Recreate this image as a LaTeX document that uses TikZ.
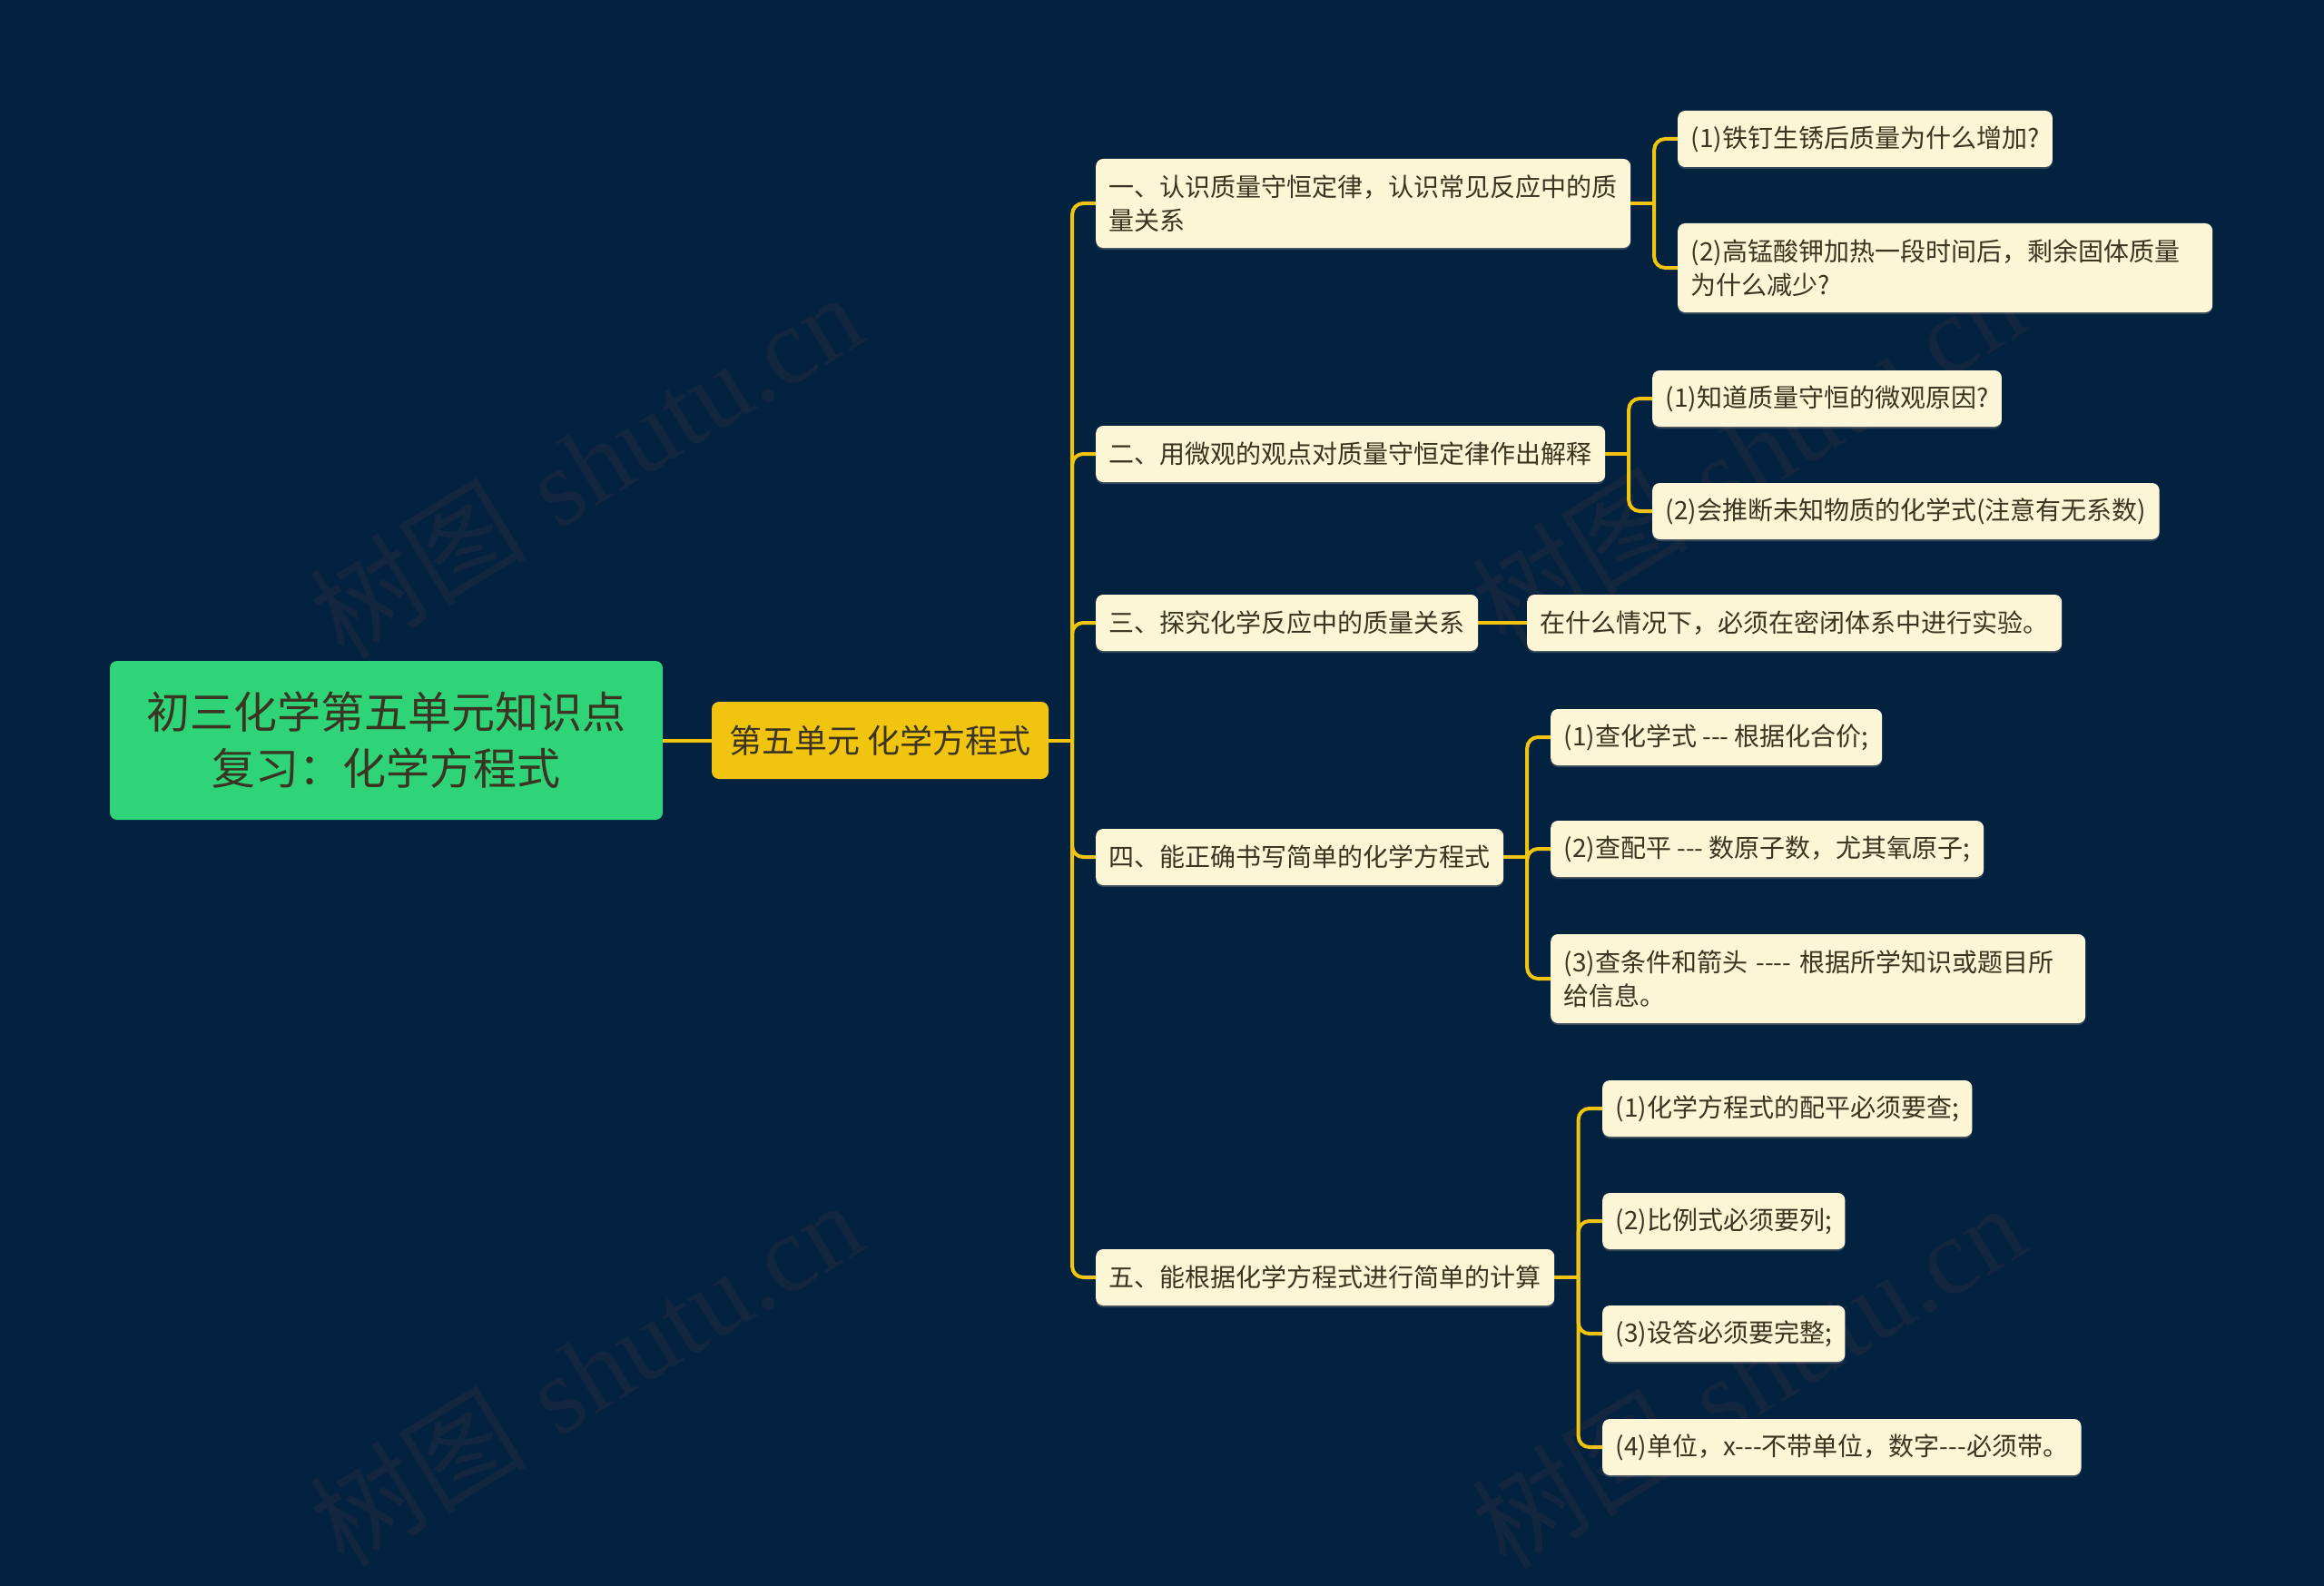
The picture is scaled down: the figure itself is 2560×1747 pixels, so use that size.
\documentclass[tikz,border=0pt]{standalone}
\usepackage{fontspec}
\newfontfamily\cjk{Noto Sans CJK SC}
\newfontfamily\wmfont{Liberation Serif}
\usetikzlibrary{calc}
\usetikzlibrary{shadows}

\definecolor{fondo}{HTML}{03223F}
\definecolor{verde}{HTML}{2FD479}
\definecolor{amarillo}{HTML}{F1C40F}
\definecolor{crema}{HTML}{FDF6D6}
\definecolor{tinta}{HTML}{3A3420}
\definecolor{marca}{HTML}{12263F}

\begin{document}
\begin{tikzpicture}[
        x=1pt, y=-1pt, % un punto = un pixel de la imagen
        font=\cjk, % Fuente para todas las etiquetas
        root/.style={fill=verde, text=tinta, rounded corners=8pt, align=center,
        minimum width=609pt, minimum height=175pt, font=\cjk\fontsize{48}{62}\selectfont}, % Tema principal
        unit/.style={fill=amarillo, text=tinta, rounded corners=8pt,
        minimum width=371pt, minimum height=85pt, font=\cjk\fontsize{36}{44}\selectfont}, % Unidad
        item/.style={fill=crema, text=tinta, rounded corners=8pt, anchor=west, align=left,
        inner xsep=14.5pt, minimum height=62pt, font=\cjk\fontsize{28}{37}\selectfont,
        drop shadow={shadow xshift=0pt, shadow yshift=-2pt, opacity=0.4}}, % Cajas de texto
        wide/.style={text width=560pt, minimum height=98pt}, % Cajas de dos lineas
        link/.style={draw=amarillo, line width=4pt}, % Conectores
        watermark/.style={text=marca, rotate=31.5, font=\fontsize{120}{120}\selectfont} % Marca de agua
    ]
        % --- Fondo y marco ---
        \fill[fondo] (0,0) rectangle (2560,1747);
        \useasboundingbox (0,0) rectangle (2560,1747);

        % --- Marcas de agua ---
        \foreach \mx/\my in {645/512, 1925/500, 645/1512, 1925/1515}
            \node[watermark] at (\mx,\my) {{\cjk 树图} {\wmfont shutu.cn}};

        % --- Tema y unidad ---
        \node[root] (tema) at (425.5,815.5) {初三化学第五单元知识点\\复习：化学方程式};
        \node[unit] (unidad) at (969.5,815.5) {第五单元 化学方程式};

        % --- Apartados ---
        \node[item, wide] (t1) at (1207,224) {一、认识质量守恒定律，认识常见反应中的质\\量关系};
        \node[item] (t2) at (1207,500) {二、用微观的观点对质量守恒定律作出解释};
        \node[item] (t3) at (1207,686) {三、探究化学反应中的质量关系};
        \node[item] (t4) at (1207,944) {四、能正确书写简单的化学方程式};
        \node[item] (t5) at (1207,1407) {五、能根据化学方程式进行简单的计算};

        % --- Detalles ---
        \node[item] (t1a) at (1848,153) {(1)铁钉生锈后质量为什么增加?};
        \node[item, wide] (t1b) at (1848,295) {(2)高锰酸钾加热一段时间后，剩余固体质量\\为什么减少?};
        \node[item] (t2a) at (1820,439) {(1)知道质量守恒的微观原因?};
        \node[item] (t2b) at (1820,563) {(2)会推断未知物质的化学式(注意有无系数)};
        \node[item] (t3a) at (1682,686) {在什么情况下，必须在密闭体系中进行实验。};
        \node[item] (t4a) at (1708,812) {(1)查化学式 --- 根据化合价;};
        \node[item] (t4b) at (1708,935) {(2)查配平 --- 数原子数，尤其氧原子;};
        \node[item, wide] (t4c) at (1708,1078) {(3)查条件和箭头 ---- 根据所学知识或题目所\\给信息。};
        \node[item] (t5a) at (1765,1221) {(1)化学方程式的配平必须要查;};
        \node[item] (t5b) at (1765,1345) {(2)比例式必须要列;};
        \node[item] (t5c) at (1765,1469) {(3)设答必须要完整;};
        \node[item] (t5d) at (1765,1594) {(4)单位，x---不带单位，数字---必须带。};

        % --- Conectores ---
        \draw[link] (tema.east) -- (unidad.west);
        \draw[link] (t3.east) -- (t3a.west);
        \foreach \p/\c in {unidad/t1, unidad/t2, unidad/t3, unidad/t4, unidad/t5,
                t1/t1a, t1/t1b, t2/t2a, t2/t2b, t4/t4a, t4/t4b, t4/t4c,
                t5/t5a, t5/t5b, t5/t5c, t5/t5d} {
            \draw[link] (\p.east) -- ($(\p.east)!.5!(\p.east -| \c.west)$);
            \draw[link, rounded corners=12pt] ($(\p.east)!.5!(\p.east -| \c.west)$) |- (\c.west);
        }

    \end{tikzpicture}
\end{document}
